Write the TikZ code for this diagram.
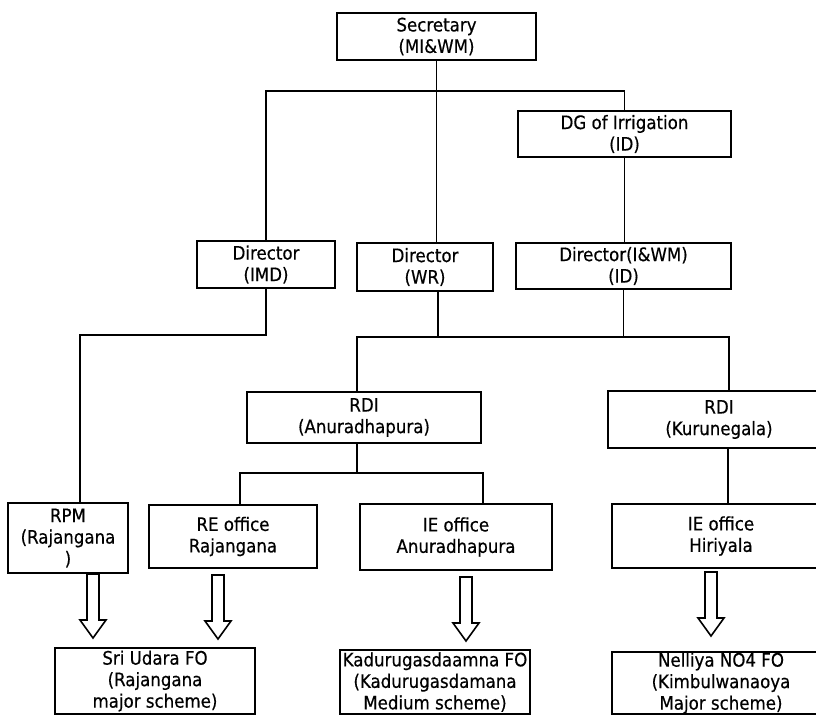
\documentclass[tikz,border=0pt]{standalone}
\usepackage{fontspec}
\setmainfont{DejaVu Sans Condensed}[FakeBold=0.5]
\begin{document}
\begin{tikzpicture}[x=1pt,y=-1pt,
  box/.style={draw, line width=1.9pt, align=center, inner sep=0pt,
    font=\fontsize{18.5}{21.5}\selectfont},
  link/.style={line width=1.7pt},
  downarrow/.pic={\draw[line width=1.6pt,line join=miter]
    (-6,0) -- (-6,46) -- (-13,46) -- (0,64) -- (13,46) -- (6,46) -- (6,0) -- cycle;}]
\clip (0,0) rectangle (816,717);
\useasboundingbox (0,0) rectangle (816,717);
% boxes
\node[box, minimum width=199pt, minimum height=47pt] (sec) at (436.5,36.5) {Secretary\\(MI\&WM)};
\node[box, minimum width=213pt, minimum height=46pt] (dg) at (624.5,134) {DG of Irrigation\\(ID)};
\node[box, minimum width=138pt, minimum height=47pt] (imd) at (266,264.5) {Director\\(IMD)};
\node[box, minimum width=136pt, minimum height=48pt] (wr) at (425,267) {Director\\(WR)};
\node[box, minimum width=215pt, minimum height=46pt] (iwm) at (623.5,266) {Director(I\&WM)\\(ID)};
\node[box, minimum width=234pt, minimum height=51pt] (rdia) at (364,417.5) {RDI\\(Anuradhapura)};
\node[box, minimum width=222pt, minimum height=57pt] (rdik) at (719,419.5) {RDI\\(Kurunegala)};
\node[box, minimum width=120pt, minimum height=70pt] (rpm) at (68,538) {RPM\\(Rajangana\\)};
\node[box, minimum width=168pt, minimum height=63pt] (re) at (233,536.5) {RE office\\Rajangana};
\node[box, minimum width=192pt, minimum height=66pt] (iea) at (456,537) {IE office\\Anuradhapura};
\node[box, minimum width=218pt, minimum height=64pt] (ieh) at (721,536) {IE office\\Hiriyala};
\node[box, minimum width=200pt, minimum height=66pt] (sri) at (155,681) {Sri Udara FO\\(Rajangana\\major scheme)};
\node[box, minimum width=190pt, minimum height=64pt] (kad) at (435,682) {Kadurugasdaamna FO\\(Kadurugasdamana\\Medium scheme)};
\node[box, minimum width=218pt, minimum height=62pt] (nel) at (721,683) {Nelliya NO4 FO\\(Kimbulwanaoya\\Major scheme)};
% bus coordinates
\coordinate (b1) at (0,91);
\coordinate (b2) at (0,337);
\coordinate (b3) at (0,473);
% connectors
\draw[link] (sec.south) -- (sec.south |- wr.north);
\draw[link] (imd.north) -- (imd.north |- b1) -- (dg.north |- b1) -- (dg.north);
\draw[link] (dg.south) -- (dg.south |- iwm.north);
\draw[link] (imd.south) -- ++(0,46) -| ([xshift=12pt]rpm.north);
\draw[link] ([xshift=13pt]wr.south) -- ([xshift=13pt]wr.south |- b2);
\draw[link] (iwm.south) -- (iwm.south |- b2);
\draw[link] ([xshift=-7pt]rdia.north) -- ([xshift=-7pt]rdia.north |- b2) -- ([xshift=10pt]rdik.north |- b2) -- ([xshift=10pt]rdik.north);
\draw[link] ([xshift=-7pt]rdia.south) -- ([xshift=-7pt]rdia.south |- b3);
\draw[link] ([xshift=7pt]re.north) -- ([xshift=7pt]re.north |- b3) -- ([xshift=27pt]iea.north |- b3) -- ([xshift=27pt]iea.north);
\draw[link] ([xshift=9pt]rdik.south) -- ([xshift=9pt]rdik.south |- ieh.north);
% block arrows
\pic at (93,574) {downarrow};
\pic at (218,575) {downarrow};
\pic at (466,577) {downarrow};
\pic at (711,572) {downarrow};
\end{tikzpicture}
\end{document}
